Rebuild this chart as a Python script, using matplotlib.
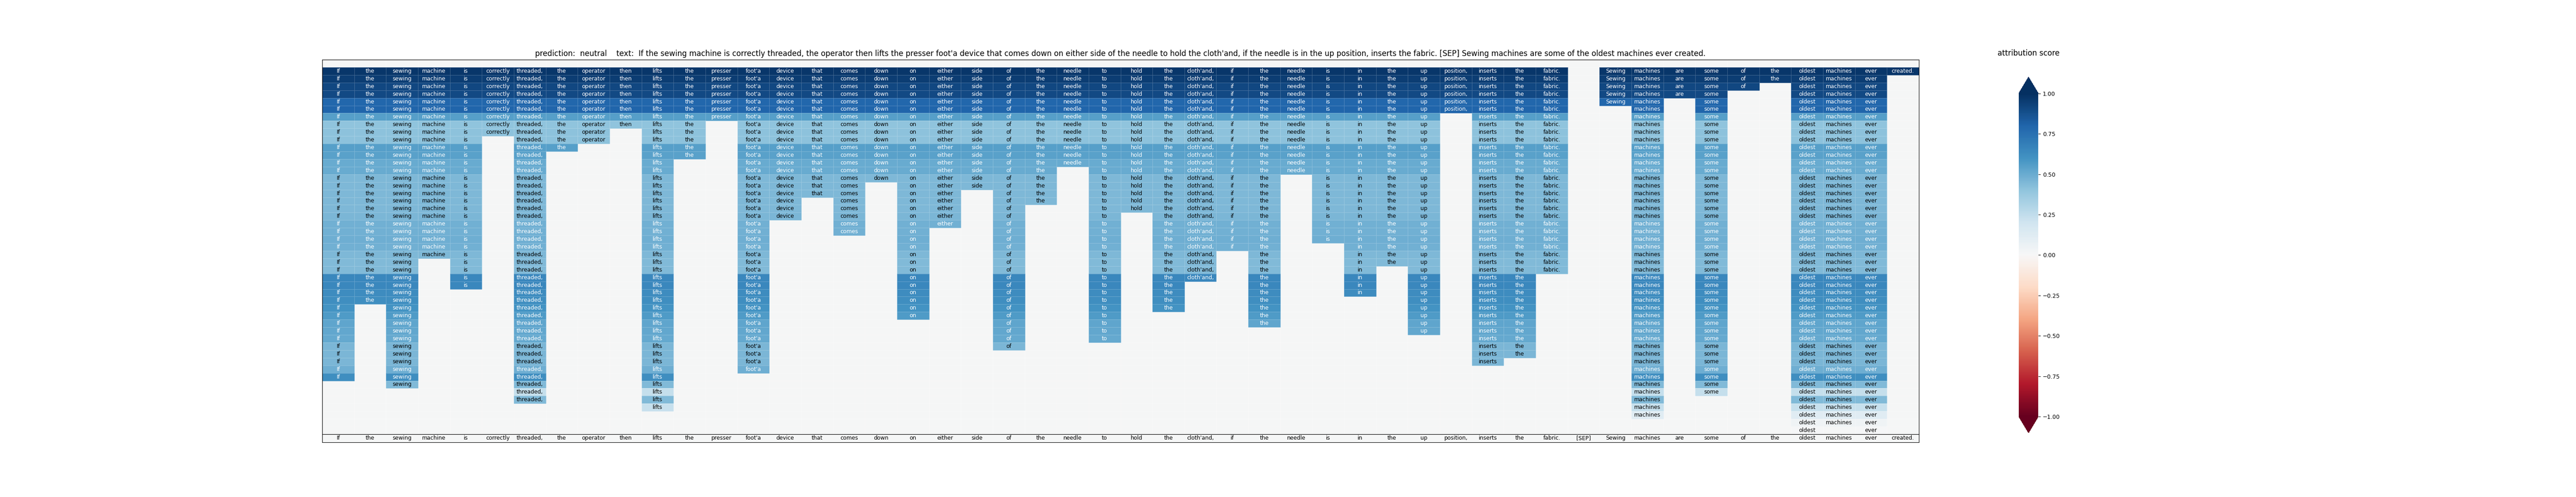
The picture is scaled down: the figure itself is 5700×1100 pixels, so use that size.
import numpy as np
import matplotlib
matplotlib.use('Agg')
import matplotlib.pyplot as plt
from matplotlib.colors import Normalize, to_rgb
from matplotlib.cm import ScalarMappable
from matplotlib.ticker import FuncFormatter

# -----------------------------------------------------------------------------
# Data
# -----------------------------------------------------------------------------
prediction = 'neutral'

tokens = ['If', 'the', 'sewing', 'machine', 'is', 'correctly', 'threaded,', 'the',
          'operator', 'then', 'lifts', 'the', 'presser', "foot'a", 'device', 'that',
          'comes', 'down', 'on', 'either', 'side', 'of', 'the', 'needle', 'to',
          'hold', 'the', "cloth'and,", 'if', 'the', 'needle', 'is', 'in', 'the',
          'up', 'position,', 'inserts', 'the', 'fabric.', '[SEP]', 'Sewing',
          'machines', 'are', 'some', 'of', 'the', 'oldest', 'machines', 'ever',
          'created.']

# number of rows (from the top) in which each token is still kept
depth = [41, 31, 42, 25, 29, 9, 44, 11, 10, 8, 45, 12, 7, 40, 20, 17, 22, 15,
         33, 21, 16, 37, 18, 13, 36, 19, 32, 28, 24, 34, 14, 23, 30, 26, 35, 6,
         39, 38, 27, 0, 5, 46, 4, 43, 3, 2, 48, 47, 48, 1]

# attribution score of each row
row_scores = [0.97, 0.95, 0.91, 0.90, 0.79, 0.80, 0.55, 0.40, 0.41, 0.41,
              0.55, 0.54, 0.50, 0.50, 0.45, 0.45, 0.45, 0.45, 0.45, 0.46,
              0.48, 0.48, 0.49, 0.48, 0.45, 0.44, 0.44, 0.65, 0.65, 0.63,
              0.62, 0.60, 0.57, 0.53, 0.52, 0.51, 0.46, 0.46, 0.46, 0.49,
              0.62, 0.44, 0.24, 0.44, 0.23, 0.12, 0.04, 0.01]

cbar_ticks = [-1.0, -0.75, -0.5, -0.25, 0.0, 0.25, 0.5, 0.75, 1.0]

BG = '#f5f6f6'
TXT_SIZE = 8.7


def luminance(c):
    """relative luminance, same rule seaborn uses for annotation colour"""
    rgb = np.array(to_rgb(c))
    rgb = np.where(rgb <= 0.03928, rgb / 12.92, ((rgb + 0.055) / 1.055) ** 2.4)
    return 0.2126 * rgb[0] + 0.7152 * rgb[1] + 0.0722 * rgb[2]


# build the matrix: first row is empty, then one row per score
n_cols = len(tokens)
n_rows = len(row_scores) + 1
M = np.full((n_rows, n_cols), np.nan)
for r, s in enumerate(row_scores, start=1):
    for j, d in enumerate(depth):
        if r <= d:
            M[r, j] = s

cmap = plt.get_cmap('RdBu')
norm = Normalize(vmin=-1, vmax=1)

fig = plt.figure(figsize=(57, 11), dpi=100)

# main heatmap
ax = fig.add_axes([0.1251, 0.1264, 0.6198, 0.7536])
ax.set_facecolor(BG)
ax.pcolormesh(np.ma.masked_invalid(M), cmap=cmap, norm=norm,
              edgecolors=(1, 1, 1, 0.22), linewidth=0.6)
ax.set_xlim(0, n_cols)
ax.set_ylim(n_rows, 0)
ax.set_xticks([])
ax.set_yticks([])

for r in range(n_rows):
    for j in range(n_cols):
        v = M[r, j]
        if np.isnan(v):
            continue
        tc = 'black' if luminance(cmap(norm(v))) > 0.408 else 'white'
        ax.text(j + 0.5, r + 0.5, tokens[j], ha='center', va='center',
                fontsize=TXT_SIZE, color=tc)

title = f'prediction:  {prediction}    text:  ' + ' '.join(tokens)
ax.set_title(title, fontsize=12, pad=6)

# strip with the full sentence under the heatmap
ax2 = fig.add_axes([0.1251, 0.1100, 0.6198, 0.0164])
ax2.set_facecolor(BG)
ax2.set_xlim(0, n_cols)
ax2.set_ylim(0, 1)
ax2.set_xticks([])
ax2.set_yticks([])
for j, tok in enumerate(tokens):
    ax2.text(j + 0.5, 0.5, tok, ha='center', va='center', fontsize=TXT_SIZE,
             color='black')

# colorbar
cax = fig.add_axes([0.7837, 0.1291, 0.00754, 0.7155])
cb = fig.colorbar(ScalarMappable(norm=norm, cmap=cmap), cax=cax,
                  extend='both', ticks=cbar_ticks)
cb.outline.set_visible(False)
cb.ax.yaxis.set_major_formatter(
    FuncFormatter(lambda x, _: f'{x:.2f}'.replace('-', '\u2212')))
cb.ax.tick_params(labelsize=9)
fig.text(0.7875, 1 - 118 / 1100, 'attribution score', ha='center',
         va='center', fontsize=12)

fig.savefig('out.png', dpi=100)
